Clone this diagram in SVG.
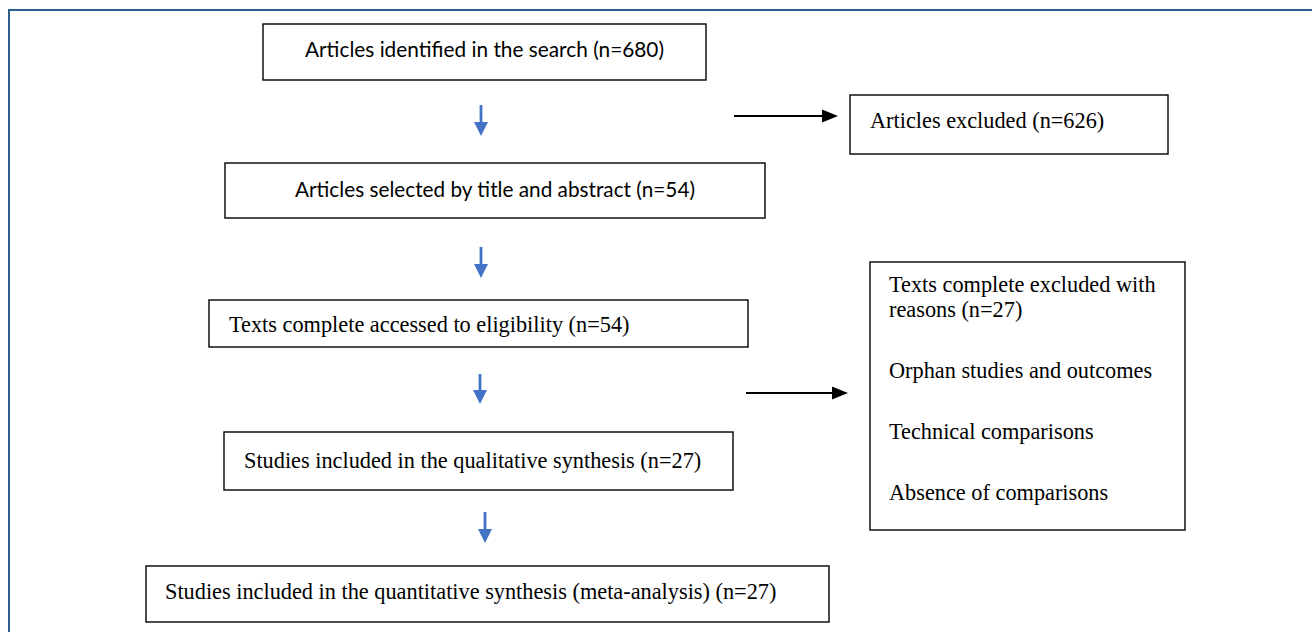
<svg xmlns="http://www.w3.org/2000/svg" width="1312" height="632" viewBox="0 0 1312 632">
<defs>
<style>
.frame{fill:none;stroke:#2e5e8e;stroke-width:2}
.box{fill:#fff;stroke:#000;stroke-width:1.4}
.sans{font-family:Lato,"Open Sans","Liberation Sans",sans-serif;font-size:22px;fill:#000}
.serif{font-family:"Liberation Serif","Times New Roman",serif;font-size:22.3px;fill:#000}
.blue{stroke:#4472c4;stroke-width:2.8;fill:none}
.black{stroke:#000;stroke-width:2;fill:none}
</style>
</defs>
<rect x="0" y="0" width="1312" height="632" fill="#fff"/>
<rect class="frame" x="9" y="10" width="1320" height="640"/>

<g id="connectors">
<line class="blue" x1="481" y1="105" x2="481" y2="123"/>
<polygon points="474,122 488,122 481,136" fill="#4472c4"/>
<line class="blue" x1="481" y1="247" x2="481" y2="265"/>
<polygon points="474,264 488,264 481,278" fill="#4472c4"/>
<line class="blue" x1="480" y1="374" x2="480" y2="391"/>
<polygon points="473,390 487,390 480,404" fill="#4472c4"/>
<line class="blue" x1="485" y1="512" x2="485" y2="530"/>
<polygon points="478,529 492,529 485,543" fill="#4472c4"/>
<line class="black" x1="734" y1="116" x2="824" y2="116"/>
<polygon points="822,109.5 838,116 822,122.5" fill="#000"/>
<line class="black" x1="746" y1="393" x2="834" y2="393"/>
<polygon points="832,386.5 848,393 832,399.5" fill="#000"/>
</g>

<g id="n1">
<rect class="box" x="263" y="24" width="443" height="56"/>
<text class="sans" x="305" y="57" textLength="359" lengthAdjust="spacingAndGlyphs">Articles identified in the search (n=680)</text>
</g>
<g id="n2">
<rect class="box" x="225" y="163" width="540" height="55"/>
<text class="sans" x="295" y="197" textLength="400" lengthAdjust="spacingAndGlyphs">Articles selected by title and abstract (n=54)</text>
</g>
<g id="n3">
<rect class="box" x="209" y="300" width="539" height="47"/>
<text class="serif" x="229" y="332">Texts complete accessed to eligibility (n=54)</text>
</g>
<g id="n4">
<rect class="box" x="224" y="432" width="509" height="58"/>
<text class="serif" x="244" y="468">Studies included in the qualitative synthesis (n=27)</text>
</g>
<g id="n5">
<rect class="box" x="146" y="566" width="683" height="56"/>
<text class="serif" x="165" y="599">Studies included in the quantitative synthesis (meta-analysis) (n=27)</text>
</g>
<g id="e1">
<rect class="box" x="850" y="95" width="318" height="59"/>
<text class="serif" x="870" y="128">Articles excluded (n=626)</text>
</g>
<g id="e2">
<rect class="box" x="870" y="262" width="315" height="268"/>
<text class="serif" x="889" y="292">Texts complete excluded with</text>
<text class="serif" x="889" y="317">reasons (n=27)</text>
<text class="serif" x="889" y="378">Orphan studies and outcomes</text>
<text class="serif" x="889" y="439">Technical comparisons</text>
<text class="serif" x="889" y="500">Absence of comparisons</text>
</g>
</svg>
